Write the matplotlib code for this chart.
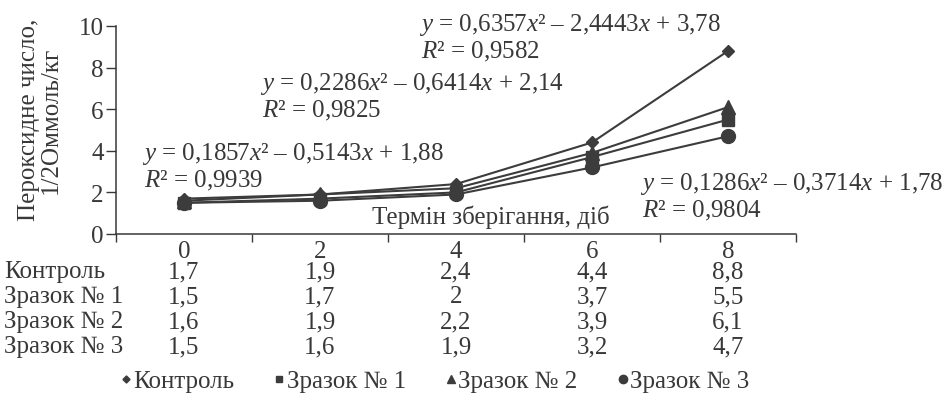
import matplotlib
matplotlib.use("Agg")
import matplotlib.pyplot as plt
from matplotlib.lines import Line2D
from matplotlib.transforms import blended_transform_factory

# data
days = ["0", "2", "4", "6", "8"]
series_names = ["Контроль", "Зразок № 1", "Зразок № 2", "Зразок № 3"]
control = [1.7, 1.9, 2.4, 4.4, 8.8]
sample1 = [1.5, 1.7, 2.0, 3.7, 5.5]
sample2 = [1.6, 1.9, 2.2, 3.9, 6.1]
sample3 = [1.5, 1.6, 1.9, 3.2, 4.7]
markers = ["D", "s", "^", "o"]
marker_sizes = [6, 8, 10, 10]

equations = [
    ("$y$ = 0,6357$x$² – 2,4443$x$ + 3,78", "$R$² = 0,9582"),
    ("$y$ = 0,2286$x$² – 0,6414$x$ + 2,14", "$R$² = 0,9825"),
    ("$y$ = 0,1857$x$² – 0,5143$x$ + 1,88", "$R$² = 0,9939"),
    ("$y$ = 0,1286$x$² – 0,3714$x$ + 1,78", "$R$² = 0,9804"),
]
# pixel anchors (left, centre y) for each equation block
eq_pos = [(419, 25), (260, 84), (142, 154), (640, 184)]

INK = "#383838"
FS = 18
W, H = 946, 410

plt.rcParams["font.family"] = ["Liberation Serif", "DejaVu Serif"]
plt.rcParams["mathtext.fontset"] = "custom"
plt.rcParams["mathtext.rm"] = "Liberation Serif"
plt.rcParams["mathtext.it"] = "Liberation Serif:italic"
plt.rcParams["font.size"] = FS
plt.rcParams["text.color"] = INK


def fx(px):
    return px / W


def fy(py):
    return 1 - py / H


fig = plt.figure(figsize=(9.46, 4.10), dpi=100)
ax = fig.add_axes([fx(116), fy(235), fx(796) - fx(116), fy(27) - fy(235)])

xs = list(range(len(days)))
all_series = [control, sample1, sample2, sample3]
for vals, m, ms in zip(all_series, markers, marker_sizes):
    ax.plot(xs, vals, color="#3c3c3c", lw=1.5, marker=m, ms=ms,
            markerfacecolor="#3c3c3c", markeredgecolor="#3c3c3c", clip_on=False)

ax.set_xlim(-0.5, len(days) - 0.5)
ax.set_ylim(0, 10)
ax.set_yticks([0, 2, 4, 6, 8, 10])
ax.tick_params(axis="y", direction="out", length=7, width=1, colors=INK,
               labelsize=FS, pad=2)
ax.set_xticks(xs)
ax.set_xticklabels(days)
ax.tick_params(axis="x", which="major", length=0, pad=4, labelsize=FS, colors=INK)
ax.set_xticks([i - 0.5 for i in range(len(days) + 1)], minor=True)
ax.tick_params(axis="x", which="minor", direction="out", length=6, width=1, color=INK)
for side in ["top", "right"]:
    ax.spines[side].set_visible(False)
for side in ["left", "bottom"]:
    ax.spines[side].set_color(INK)
    ax.spines[side].set_linewidth(1.1)

# trendline equations
for (eq, r2), (px, py) in zip(equations, eq_pos):
    fig.text(fx(px), fy(py), eq, ha="left", va="center", fontsize=FS)
    fig.text(fx(px + 2), fy(py + 27), r2, ha="left", va="center", fontsize=FS)

fig.text(fx(372), fy(217), "Термін зберігання, діб", ha="left", va="center", fontsize=FS)

fig.text(fx(40), fy(120), "Пероксидне число,\n1/2Оммоль/кг", rotation=90,
         ha="center", va="center", fontsize=FS, linespacing=1.0)

# data table under the axis
trans = blended_transform_factory(ax.transData, fig.transFigure)
row_y = [272, 297, 322, 347]
for name, vals, py in zip(series_names, all_series, row_y):
    fig.text(fx(4), fy(py), name, ha="left", va="center", fontsize=FS)
    for i, v in zip(xs, vals):
        ax.text(i, fy(py), f"{v:g}".replace(".", ","), transform=trans,
                ha="center", va="center", fontsize=FS)

handles = [Line2D([], [], linestyle="none", marker=m, ms=ms * 0.6, color="#3c3c3c")
           for m, ms in zip(markers, marker_sizes)]
fig.legend(handles, series_names, loc="center", bbox_to_anchor=(fx(435), fy(382)),
           ncol=4, frameon=False, handlelength=0.4, handletextpad=0.1,
           columnspacing=1.6, fontsize=FS, borderaxespad=0)

fig.savefig("out.png", dpi=100)
